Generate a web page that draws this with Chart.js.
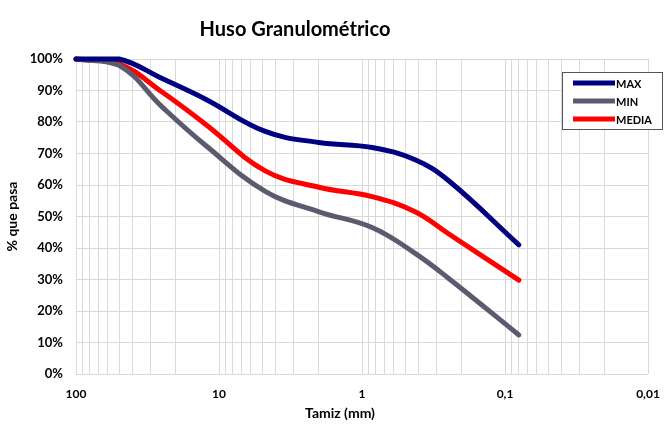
<!DOCTYPE html>
<html>
<head>
<meta charset="utf-8">
<script src="https://cdn.jsdelivr.net/npm/chart.js@4.4.0/dist/chart.umd.min.js"></script>
<style>
  body { margin: 0; background: #fff; }
</style>
</head>
<body>
<canvas id="myChart" width="665" height="428"></canvas>
<script>
// tamiz (mm) y % que pasa
var sieves = [100, 50, 25, 12.5, 4.75, 2, 0.85, 0.425, 0.25, 0.08];
var maxPass = [100, 100, 93.8, 87.3, 77, 73.5, 71.9, 68, 61.5, 41];
var minPass = [100, 98, 84.8, 72.7, 58, 51.5, 46.5, 38.3, 30.5, 12.4];
var mediaPass = [100, 98.5, 89.5, 79.4, 64.5, 59.3, 56.3, 51.5, 44.6, 29.8];

var seriesNames = ['MAX', 'MIN', 'MEDIA'];
var seriesColors = ['#000080', '#5b5b6f', '#ff0000'];

var xTickValues = [100, 10, 1, 0.1, 0.01];
var xTickText = ['100', '10', '1', '0,1', '0,01'];

// lineas de grilla: 1..9 de cada decada
var gridValues = [];
[0.01, 0.1, 1, 10].forEach(function (d) {
  for (var m = 1; m < 10; m++) gridValues.push(d * m);
});
gridValues.push(100);

function pts(arr) {
  return sieves.map(function (s, i) { return { x: s, y: arr[i] }; });
}

var font = "Lato, 'Open Sans', sans-serif";

var extras = {
  id: 'extras',
  afterDraw: function (chart) {
    var c = chart.ctx;
    c.save();
    c.fillStyle = '#000';
    c.textAlign = 'center';
    c.textBaseline = 'middle';
    c.font = 'bold 20px ' + font;
    c.fillText('Huso Granulométrico', 295, 30);
    c.font = 'bold 14px ' + font;
    c.fillText('Tamiz (mm)', 340, 413);

    // leyenda
    c.fillStyle = '#fff';
    c.fillRect(562.5, 72.5, 100, 57);
    c.strokeStyle = '#555';
    c.lineWidth = 1;
    c.strokeRect(562.5, 72.5, 100, 57);
    var ys = [83, 101, 119];
    c.textAlign = 'left';
    c.font = 'bold 11px ' + font;
    chart.data.datasets.forEach(function (ds, i) {
      c.strokeStyle = ds.borderColor;
      c.lineWidth = 5;
      c.beginPath();
      c.moveTo(573, ys[i]);
      c.lineTo(615, ys[i]);
      c.stroke();
      c.fillStyle = '#000';
      c.fillText(ds.label, 616, ys[i] + 1);
    });
    c.restore();
  }
};

var ctx = document.getElementById('myChart').getContext('2d');
var myChart = new Chart(ctx, {
  type: 'scatter',
  data: {
    datasets: [{
        label: seriesNames[0],
        data: pts(maxPass),
        borderColor: seriesColors[0],
        backgroundColor: seriesColors[0]
      }, {
        label: seriesNames[1],
        data: pts(minPass),
        borderColor: seriesColors[1],
        backgroundColor: seriesColors[1]
      }, {
        label: seriesNames[2],
        data: pts(mediaPass),
        borderColor: seriesColors[2],
        backgroundColor: seriesColors[2]
      }
    ]
  },
  options: {
    responsive: false,
    animation: false,
    layout: { padding: { top: 59, right: 17, left: 0, bottom: 0 } },
    datasets: {
      scatter: {
        showLine: true,
        borderWidth: 5,
        pointRadius: 0,
        tension: 0.4,
        clip: false,
        borderCapStyle: 'round'
      }
    },
    plugins: {
      legend: { display: false },
      title: { display: false },
      tooltip: { enabled: false }
    },
    scales: {
      x: {
        type: 'logarithmic',
        reverse: true,
        min: 0.01,
        max: 100,
        afterBuildTicks: function (scale) {
          scale.ticks = gridValues.map(function (v) { return { value: v }; });
        },
        afterFit: function (scale) { scale.height = 54; },
        grid: { color: '#d9d9d9', drawTicks: false },
        border: { display: false },
        ticks: {
          autoSkip: false,
          maxRotation: 0,
          padding: 13,
          color: '#000',
          font: { family: font, size: 12, weight: 'bold' },
          callback: function (v) {
            for (var i = 0; i < xTickValues.length; i++) {
              if (Math.abs(v - xTickValues[i]) / xTickValues[i] < 1e-6) return xTickText[i];
            }
            return '';
          }
        }
      },
      y: {
        min: 0,
        max: 100,
        afterFit: function (scale) { scale.width = 76; },
        grid: { color: '#d9d9d9', drawTicks: false },
        border: { display: false },
        ticks: {
          stepSize: 10,
          padding: 13,
          color: '#000',
          font: { family: font, size: 13, weight: 'bold' },
          callback: function (v) { return v + '%'; }
        },
        title: {
          display: true,
          text: '% que pasa',
          color: '#000',
          padding: { top: 4, bottom: 0 },
          font: { family: font, size: 14, weight: 'bold' }
        }
      }
    }
  },
  plugins: [extras]
});
</script>
</body>
</html>
